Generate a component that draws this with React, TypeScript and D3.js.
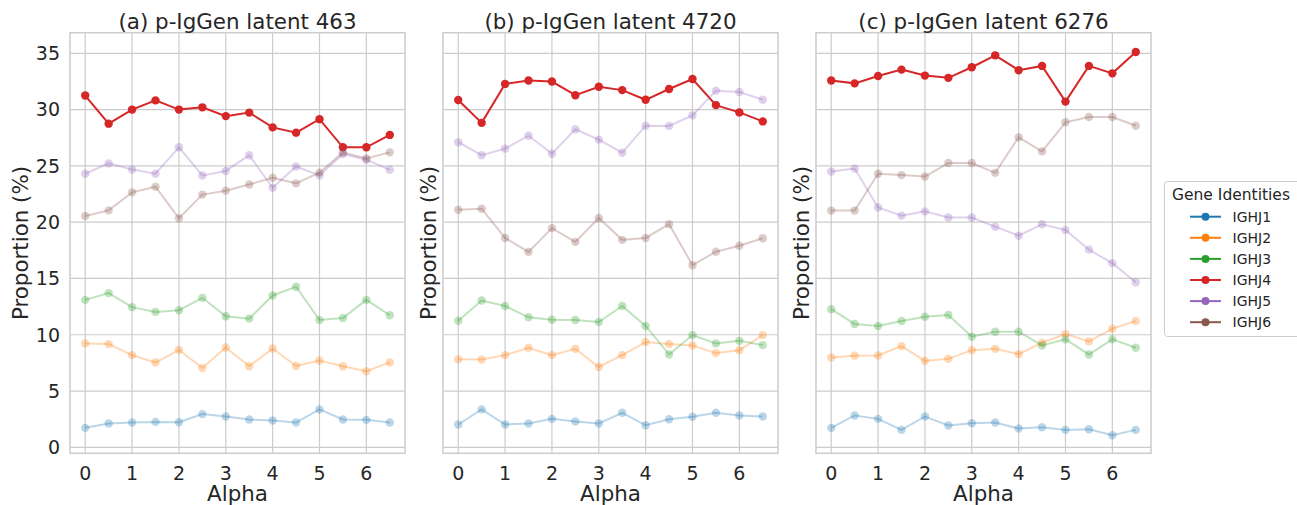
import React from "react";
import * as d3 from "d3";

const alphas = [0, 0.5, 1, 1.5, 2, 2.5, 3, 3.5, 4, 4.5, 5, 5.5, 6, 6.5];
const genes = ["IGHJ1", "IGHJ2", "IGHJ3", "IGHJ4", "IGHJ5", "IGHJ6"];
const geneColors = ["#1f77b4", "#ff7f0e", "#2ca02c", "#d62728", "#9467bd", "#8c564b"];
const titles = ["(a) p-IgGen latent 463", "(b) p-IgGen latent 4720", "(c) p-IgGen latent 6276"];
const xTicks = [0, 1, 2, 3, 4, 5, 6];
const yTicks = [0, 5, 10, 15, 20, 25, 30, 35];
const highlighted = "IGHJ4";

// panel (a)
const a_IGHJ1 = [1.73, 2.12, 2.2, 2.26, 2.23, 2.95, 2.74, 2.47, 2.38, 2.2, 3.37, 2.47, 2.44, 2.2];
const a_IGHJ2 = [9.23, 9.17, 8.19, 7.53, 8.66, 7.05, 8.87, 7.2, 8.78, 7.23, 7.71, 7.2, 6.76, 7.53];
const a_IGHJ3 = [13.1, 13.7, 12.45, 12.03, 12.18, 13.28, 11.64, 11.43, 13.49, 14.26, 11.31, 11.49, 13.1, 11.73];
const a_IGHJ4 = [31.25, 28.75, 30.0, 30.82, 30.0, 30.2, 29.42, 29.73, 28.42, 27.95, 29.15, 26.65, 26.65, 27.75];
const a_IGHJ5 = [24.3, 25.22, 24.68, 24.3, 26.65, 24.15, 24.55, 25.95, 23.05, 24.95, 24.15, 26.05, 25.55, 24.65];
const a_IGHJ6 = [20.55, 21.05, 22.65, 23.15, 20.35, 22.45, 22.8, 23.35, 23.95, 23.45, 24.4, 26.2, 25.65, 26.2];

// panel (b)
const b_IGHJ1 = [2.03, 3.37, 2.03, 2.12, 2.53, 2.29, 2.12, 3.07, 1.96, 2.5, 2.71, 3.07, 2.83, 2.74];
const b_IGHJ2 = [7.83, 7.8, 8.19, 8.84, 8.19, 8.75, 7.14, 8.19, 9.35, 9.17, 9.05, 8.37, 8.63, 9.97];
const b_IGHJ3 = [11.25, 13.04, 12.56, 11.55, 11.34, 11.31, 11.13, 12.56, 10.78, 8.25, 9.97, 9.23, 9.46, 9.08];
const b_IGHJ4 = [30.85, 28.82, 32.28, 32.58, 32.49, 31.28, 32.03, 31.73, 30.87, 31.83, 32.72, 30.4, 29.75, 28.95];
const b_IGHJ5 = [27.1, 25.95, 26.53, 27.68, 26.08, 28.25, 27.33, 26.17, 28.57, 28.55, 29.49, 31.68, 31.57, 30.88];
const b_IGHJ6 = [21.1, 21.2, 18.6, 17.36, 19.47, 18.25, 20.37, 18.43, 18.6, 19.82, 16.18, 17.38, 17.9, 18.57];

// panel (c)
const c_IGHJ1 = [1.73, 2.83, 2.53, 1.55, 2.74, 1.94, 2.14, 2.2, 1.67, 1.79, 1.55, 1.61, 1.07, 1.55];
const c_IGHJ2 = [7.98, 8.13, 8.16, 8.99, 7.68, 7.86, 8.63, 8.75, 8.28, 9.29, 10.06, 9.41, 10.54, 11.22];
const c_IGHJ3 = [12.27, 10.96, 10.78, 11.22, 11.6, 11.76, 9.82, 10.27, 10.27, 9.05, 9.59, 8.25, 9.59, 8.84];
const c_IGHJ4 = [32.58, 32.33, 32.99, 33.55, 33.02, 32.82, 33.76, 34.82, 33.5, 33.88, 30.71, 33.88, 33.22, 35.12];
const c_IGHJ5 = [24.5, 24.77, 21.3, 20.58, 20.96, 20.41, 20.41, 19.6, 18.8, 19.81, 19.31, 17.56, 16.36, 14.67];
const c_IGHJ6 = [21.03, 21.03, 24.3, 24.18, 24.05, 25.25, 25.25, 24.38, 27.54, 26.29, 28.87, 29.34, 29.34, 28.57];

const panelSeries = [
  [a_IGHJ1, a_IGHJ2, a_IGHJ3, a_IGHJ4, a_IGHJ5, a_IGHJ6],
  [b_IGHJ1, b_IGHJ2, b_IGHJ3, b_IGHJ4, b_IGHJ5, b_IGHJ6],
  [c_IGHJ1, c_IGHJ2, c_IGHJ3, c_IGHJ4, c_IGHJ5, c_IGHJ6],
];

const W = 1297;
const H = 505;
const panelLefts = [70, 443, 816];
const panelW = 335;
const top = 32.7;
const bottom = 453.3;
const FONT = "'DejaVu Sans', sans-serif";
const TEXT = "#262626";
const GRID = "#cccccc";
const LABEL_SIZE = 21.4;
const TICK_SIZE = 19;

function Panel({ idx }: { idx: number }) {
  const left = panelLefts[idx];
  const x = d3.scaleLinear().domain([-0.325, 6.825]).range([left, left + panelW]);
  const y = d3.scaleLinear().domain([-0.53, 36.83]).range([bottom, top]);
  const line = d3
    .line<number>()
    .x((_, i) => x(alphas[i]))
    .y((d) => y(d));
  const cx = left + panelW / 2;
  const cy = (top + bottom) / 2;
  return (
    <g>
      {xTicks.map((t) => (
        <line key={"gx" + t} x1={x(t)} x2={x(t)} y1={top} y2={bottom} stroke={GRID} strokeWidth={1.2} />
      ))}
      {yTicks.map((t) => (
        <line key={"gy" + t} x1={left} x2={left + panelW} y1={y(t)} y2={y(t)} stroke={GRID} strokeWidth={1.2} />
      ))}
      {panelSeries[idx].map((vals, gi) => {
        const hl = genes[gi] === highlighted;
        const op = hl ? 1 : 0.3;
        return (
          <g key={genes[gi]}>
            <path d={line(vals) || ""} fill="none" stroke={geneColors[gi]} strokeWidth={2} strokeOpacity={op} />
            {vals.map((v, i) => (
              <circle key={i} cx={x(alphas[i])} cy={y(v)} r={4.2} fill={geneColors[gi]} fillOpacity={op} />
            ))}
          </g>
        );
      })}
      <rect x={left} y={top} width={panelW} height={bottom - top} fill="none" stroke={GRID} strokeWidth={1.5} />
      {xTicks.map((t) => (
        <text key={"tx" + t} x={x(t)} y={479.5} textAnchor="middle" fontSize={TICK_SIZE} fill={TEXT} fontFamily={FONT}>
          {t}
        </text>
      ))}
      {idx === 0 &&
        yTicks.map((t) => (
          <text
            key={"ty" + t}
            x={left - 10}
            y={y(t)}
            dy="0.36em"
            textAnchor="end"
            fontSize={TICK_SIZE}
            fill={TEXT}
            fontFamily={FONT}
          >
            {t}
          </text>
        ))}
      <text x={cx} y={501} textAnchor="middle" fontSize={LABEL_SIZE} fill={TEXT} fontFamily={FONT}>
        Alpha
      </text>
      <text
        transform={`translate(${idx === 0 ? 28.3 : left - 7},${cy}) rotate(-90)`}
        textAnchor="middle"
        fontSize={LABEL_SIZE}
        fill={TEXT}
        fontFamily={FONT}
      >
        Proportion (%)
      </text>
      <text x={cx} y={29} textAnchor="middle" fontSize={LABEL_SIZE} fill={TEXT} fontFamily={FONT}>
        {titles[idx]}
      </text>
    </g>
  );
}

function Legend() {
  const lx = 1164.5;
  const ly = 181.5;
  return (
    <g>
      <rect x={lx} y={ly} width={140} height={155} rx={3} fill="white" stroke={GRID} strokeWidth={1} />
      <text x={1231} y={200} textAnchor="middle" fontSize={15.5} fill={TEXT} fontFamily={FONT}>
        Gene Identities
      </text>
      {genes.map((g, i) => {
        const yy = 216.7 + i * 21.1;
        return (
          <g key={g}>
            <line x1={1190} x2={1221} y1={yy} y2={yy} stroke={geneColors[i]} strokeWidth={2} />
            <circle cx={1205.5} cy={yy} r={4} fill={geneColors[i]} />
            <text x={1232.5} y={yy} dy="0.36em" fontSize={14} fill={TEXT} fontFamily={FONT}>
              {g}
            </text>
          </g>
        );
      })}
    </g>
  );
}

export default function App() {
  return (
    <svg width={W} height={H} style={{ position: "absolute", left: 0, top: 0, background: "white" }}>
      <rect x={0} y={0} width={W} height={H} fill="white" />
      {[0, 1, 2].map((i) => (
        <Panel key={i} idx={i} />
      ))}
      <Legend />
    </svg>
  );
}
